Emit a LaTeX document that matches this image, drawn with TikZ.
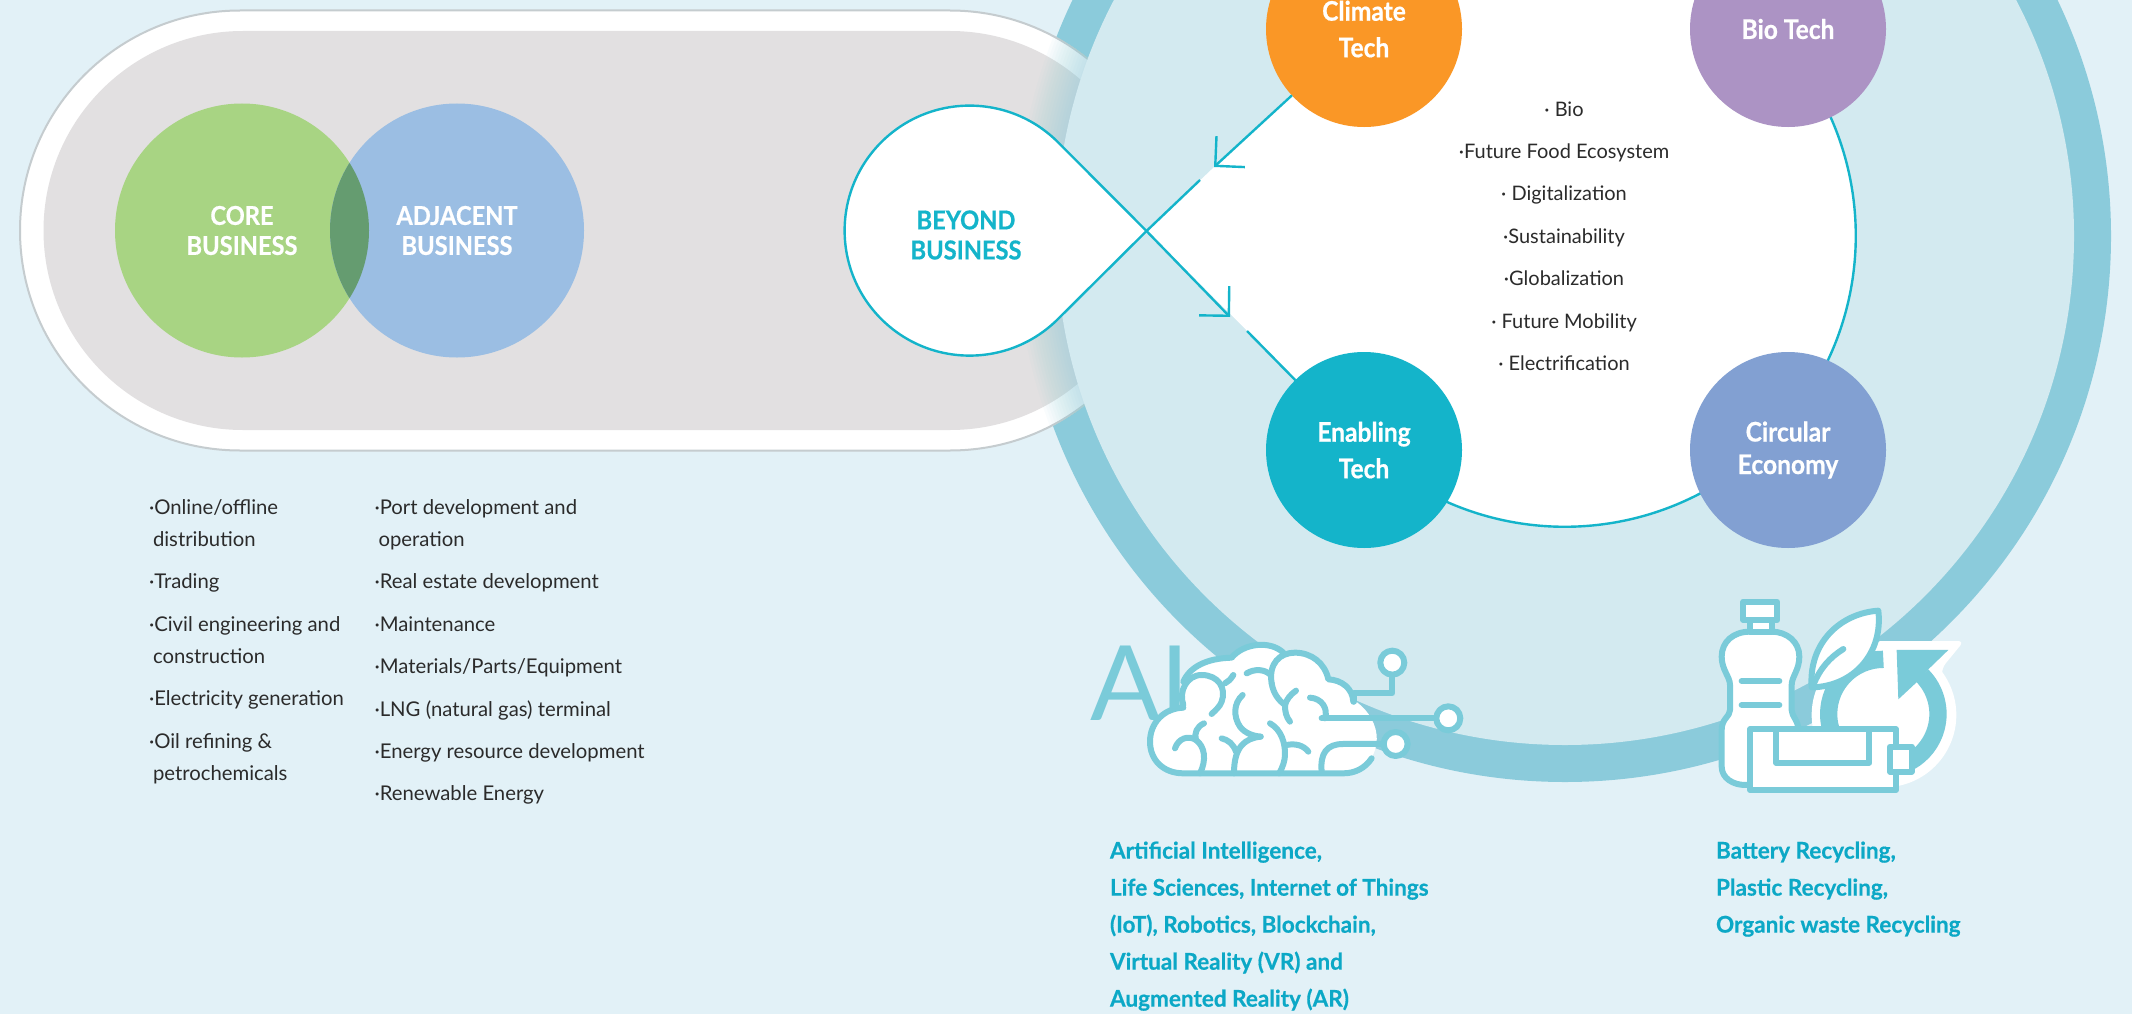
\documentclass[tikz,border=0pt]{standalone}
\usepackage{fontspec}
\usepackage{tikz}
\usetikzlibrary{arrows.meta,positioning}
\usepackage{xcolor}
\setmainfont{Lato}
\newfontfamily\labelfont[FakeStretch=0.91,BoldFeatures={FakeBold=0.6}]{Lato}
\newfontfamily\captionfont[FakeStretch=0.98,BoldFeatures={FakeBold=0.5}]{Lato}
\definecolor{pagebg}{HTML}{E2F1F7}
\definecolor{discblue}{HTML}{D3EAF0}
\definecolor{ringblue}{HTML}{8BCBDB}
\definecolor{linecyan}{HTML}{14B4CA}
\definecolor{iconcyan}{HTML}{7ACBD9}
\definecolor{pillgray}{HTML}{E2E0E1}
\definecolor{pillline}{HTML}{C5CCCF}
\definecolor{coregreen}{HTML}{A8D483}
\definecolor{adjblue}{HTML}{9BBEE3}
\definecolor{lensgreen}{HTML}{659C70}
\definecolor{climateorange}{HTML}{FA9726}
\definecolor{biopurple}{HTML}{AC93C4}
\definecolor{circularblue}{HTML}{82A0D2}
\definecolor{captioncyan}{HTML}{0CA8C6}
\definecolor{bodytext}{HTML}{2B2B2B}

\begin{document}
\begin{tikzpicture}[
	  x=1pt,y=-1pt,
	  every node/.style={align=center,text=white,draw=none,inner sep=0pt,outer sep=0pt},
	  every matrix/.style={ampersand replacement=\&,column sep=228pt,row sep=225pt},
	  bizcircle/.style={circle,minimum size=254pt,font={\labelfont\bfseries\fontsize{26}{30}\selectfont}},
	  techcircle/.style={circle,minimum size=196pt,font={\labelfont\bfseries\fontsize{27}{36.5}\selectfont}},
	  beyond/.style={text=linecyan,font={\labelfont\bfseries\fontsize{26}{30}\selectfont}},
	  listtext/.style={align=left,text=bodytext,font={\fontsize{20.3}{32}\selectfont}},
	  focustext/.style={text=bodytext,font={\fontsize{20}{32}\selectfont}},
	  caption/.style={align=left,text=captioncyan,font={\captionfont\bfseries\fontsize{23}{37}\selectfont}},
	  aitext/.style={text=iconcyan,font={\fontsize{104}{104}\selectfont}},
	  loopline/.style={draw=linecyan,line width=2.4pt},
	  to/.style={-{Straight Barb[length=21pt,width=42pt]},draw=linecyan,line width=2.4pt},
	  iconline/.style={draw=iconcyan,line width=6pt,line cap=round,line join=round},
	  iconfill/.style={iconline,fill=white}]

	  \useasboundingbox (0,0) rectangle (2132,1014);
	  \clip (0,0) rectangle (2132,1014);
	  \fill[pagebg] (0,0) rectangle (2132,1014);

	  % Ring, pill, shadow on the pill, then the disc
	  \fill[ringblue] (1565,236) circle (546);
	  \filldraw[fill=white,draw=pillline,line width=2pt] (240,10.5) -- (950,10.5) arc[start angle=-90,end angle=90,radius=220] -- (240,450.5) arc[start angle=90,end angle=270,radius=220] -- cycle;
	  \fill[pillgray] (243,31) -- (950,31) arc[start angle=-90,end angle=90,radius=199.5] -- (243,430) arc[start angle=90,end angle=270,radius=199.5] -- cycle;
	  \begin{scope}
	    \clip (240,9.5) -- (950,9.5) arc[start angle=-90,end angle=90,radius=221] -- (240,451.5) arc[start angle=90,end angle=270,radius=221] -- cycle;
	    \foreach \r in {549,546,...,510}
	      \fill[ringblue,opacity=.045] (1565,236) circle (\r);
	  \end{scope}
	  \fill[discblue] (1565,236) circle (509);

	  % Loops of the figure eight
	  \coordinate (cross) at (1146.5,231);
	  \coordinate (loopup) at (1058,142);
	  \coordinate (looplow) at (1058,319);
	  \coordinate (tipdown) at (1230,317);
	  \coordinate (gapdown) at (1247,331);
	  \coordinate (tipup) at (1214,167);
	  \coordinate (endup) at (1200,180);
	  \fill[white] (cross) -- (1359,30) arc[start angle=225,end angle=495,radius=291] -- cycle;
	  \draw[loopline] (1359,30) arc[start angle=225,end angle=495,radius=291];
	  \filldraw[loopline,fill=white] (looplow) arc[start angle=45,end angle=315,radius=125] -- (cross) -- cycle;
	  \node[beyond] (beyondbiz) at (966,235) {BEYOND\\BUSINESS};

	  % Business circles
	  \node[bizcircle,fill=coregreen] (core) at (242,230.5) {CORE\\BUSINESS};
	  \node[bizcircle,fill=adjblue,right=-39pt of core] (adjacent) {ADJACENT\\BUSINESS};
	  \begin{scope}
	    \clip (core.center) circle (127);
	    \fill[lensgreen] (adjacent.center) circle (127);
	  \end{scope}

	  % Position the tech circles using a matrix layout
	  \matrix at (1576,239.5) {
	    \node[techcircle,fill=climateorange] (climate) {Climate\\Tech}; \& \node[techcircle,fill=biopurple] (bio) {Bio Tech};\\
	    \node[techcircle,fill=linecyan] (enabling) {Enabling\\Tech}; \& \node[techcircle,fill=circularblue] (circular) {Circular\\[-4pt]Economy};\\
	  };

	  \draw[to] (cross) -- (tipdown);
	  \draw[loopline] (cross) -- (endup);
	  \draw[to] (climate) -- (tipup);
	  \draw[loopline] (gapdown) -- (enabling);

	  \node[focustext] (focus) at (1564,236) {· Bio\\[10.4pt]·Future Food Ecosystem\\[10.4pt]· Digitalization\\[10.4pt]·Sustainability\\[10.4pt]·Globalization\\[10.4pt]· Future Mobility\\[10.4pt]· Electrification};

	  \node[listtext,anchor=north west] (corelist) at (149,499.5) {·Online/offline\\\hspace{4pt}distribution\\[10.4pt]·Trading\\[10.4pt]·Civil engineering and\\\hspace{4pt}construction\\[10.4pt]·Electricity generation\\[10.4pt]·Oil refining \&\\\hspace{4pt}petrochemicals};
	  \node[listtext,anchor=north west] (adjlist) at (374.5,499.5) {·Port development and\\\hspace{4pt}operation\\[10.4pt]·Real estate development\\[10.4pt]·Maintenance\\[10.4pt]·Materials/Parts/Equipment\\[10.4pt]·LNG (natural gas) terminal\\[10.4pt]·Energy resource development\\[10.4pt]·Renewable Energy};

	  \node[caption,anchor=north west] (aicaption) at (1110,841.5) {Artificial Intelligence,\\Life Sciences, Internet of Things\\(IoT), Robotics, Blockchain,\\Virtual Reality (VR) and\\Augmented Reality (AR)};
	  \node[caption,anchor=north west] (recycaption) at (1716,841.5) {Battery Recycling,\\Plastic Recycling,\\Organic waste Recycling};

	  % Brain icon
	  \node[aitext,anchor=base west] (ailabel) at (1090,720.5) {AI};
	  \begin{scope}[shift={(1050,560)},x=.3333pt,y=-.3333pt]
	    \fill[white] (400,640) -- (880,640) .. controls (940,640) and (985,590) .. (980,525) .. controls (975,480) and (945,440) .. (910,420) .. controls (905,380) and (870,360) .. (835,355) .. controls (820,300) and (780,275) .. (735,278) -- (700,278) .. controls (680,245) and (590,240) .. (545,293) -- (480,295) .. controls (440,300) and (400,340) .. (395,375) -- (400,443) .. controls (340,445) and (300,490) .. (300,545) .. controls (300,600) and (340,640) .. (400,640) -- cycle;
	    \draw[iconline] (965,595) .. controls (945,625) and (915,640) .. (880,640) -- (400,640) .. controls (340,640) and (300,600) .. (300,545) .. controls (300,490) and (340,445) .. (400,443);
	    \draw[iconline] (400,435) .. controls (385,395) and (410,345) .. (455,345) .. controls (505,345) and (530,385) .. (515,425) .. controls (510,440) and (495,452) .. (485,462);
	    \draw[iconline] (400,365) .. controls (420,320) and (470,295) .. (545,293) .. controls (580,250) and (660,240) .. (700,278);
	    \draw[iconline] (665,370) .. controls (655,310) and (690,278) .. (735,278) .. controls (785,278) and (825,310) .. (835,358) .. controls (875,360) and (908,385) .. (910,425);
	    \draw[iconline] (665,370) .. controls (670,400) and (685,420) .. (705,435) .. controls (705,455) and (708,470) .. (720,485);
	    \draw[iconline] (738,392) .. controls (720,405) and (710,418) .. (705,435);
	    \draw[iconline] (590,340) .. controls (615,325) and (645,328) .. (662,345);
	    \draw[iconline] (550,345) .. controls (542,358) and (535,365) .. (525,370);
	    \draw[iconline] (578,405) .. controls (550,430) and (550,470) .. (570,500) .. controls (585,520) and (610,528) .. (632,530);
	    \draw[iconline] (632,530) .. controls (585,535) and (552,560) .. (552,640);
	    \draw[iconline] (515,535) .. controls (535,540) and (550,552) .. (558,575);
	    \draw[iconline] (660,490) .. controls (695,510) and (705,550) .. (705,580) .. controls (705,605) and (698,620) .. (688,640);
	    \draw[iconline] (710,555) .. controls (735,550) and (760,555) .. (775,575);
	    \draw[iconline] (462,490) .. controls (440,500) and (432,520) .. (438,540) .. controls (465,560) and (470,600) .. (450,640);
	    \draw[iconline] (375,565) .. controls (385,535) and (415,525) .. (438,540);
	    \draw[iconline] (780,413) .. controls (815,415) and (835,445) .. (825,475);
	    \draw[iconline] (815,475) -- (1150,475);
	    \draw[iconline] (912,425) -- (912,400) -- (1027,400) -- (1027,350);
	    \draw[iconline] (815,635) .. controls (810,580) and (830,552) .. (880,552) -- (995,552);
	    \filldraw[iconfill] (1027,308) circle (36);
	    \filldraw[iconfill] (1195,475) circle (36);
	    \filldraw[iconfill] (1037,552) circle (36);
	  \end{scope}

	  % Recycling icon
	  \begin{scope}[shift={(1680,570)},x=.3333pt,y=-.3333pt]
	    \fill[white] (612,435) circle (217);
	    \fill[white,rounded corners=6pt] (585,213) -- (852,213) -- (785,295) -- (800,500) -- (585,500) -- cycle;
	    \draw[draw=iconcyan,line width=17.3pt] (610,432) ++(270:164) arc[start angle=270,end angle=120,radius=164];
	    \draw[draw=iconcyan,line width=17.3pt] (610,432) ++(-45:164) arc[start angle=-45,end angle=60,radius=164];
	    \fill[iconcyan] (650,240) -- (805,240) -- (745,298) -- (712,335) -- (655,388) -- cycle;
	    \filldraw[iconfill] (595,122) .. controls (480,130) and (385,220) .. (395,352) .. controls (520,350) and (610,250) .. (595,122) -- cycle;
	    \draw[iconline] (490,237) .. controls (450,262) and (420,295) .. (400,345);
	    \filldraw[iconfill] (210,185) .. controls (160,185) and (125,215) .. (125,260) .. controls (125,300) and (150,320) .. (150,345) -- (150,420) .. controls (150,440) and (125,445) .. (125,480) -- (125,590) .. controls (125,625) and (160,645) .. (195,645) -- (355,645) -- (355,480) .. controls (355,450) and (335,440) .. (335,420) -- (335,345) .. controls (335,320) and (358,300) .. (358,260) .. controls (358,215) and (320,185) .. (275,185) -- cycle;
	    \filldraw[iconfill] (210,150) rectangle (275,185);
	    \filldraw[iconfill] (190,95) rectangle (292,150);
	    \draw[iconline] (185,333) -- (298,333);
	    \draw[iconline] (185,405) -- (298,405);
	    \filldraw[iconfill] (210,478) rectangle (648,660);
	    \draw[iconline] (288,478) -- (288,578) -- (568,578) -- (568,478);
	    \filldraw[iconfill] (630,530) rectangle (695,605);
	  \end{scope}
\end{tikzpicture}
\end{document}
